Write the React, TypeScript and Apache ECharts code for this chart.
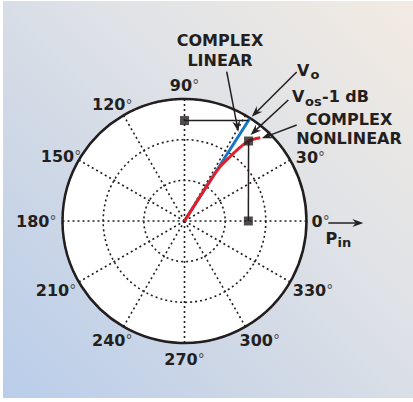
import React, { useEffect, useRef } from "react";
import * as echarts from "echarts";

// Polar plane: radius in arbitrary units (outer ring = 3), angle in degrees
const radiusMax = 3;
const angleStep = 30;
// Angles whose tick label is left out (crowded by the annotations)
const hiddenAngleLabels = [60];

// Complex linear response: straight vector from the origin
const linearPath: [number, number][] = [
  [0, 57.5],
  [2.98, 57.5],
];

// Complex nonlinear response: bends away from the linear vector near compression
const nonlinearPath: [number, number][] = [
  [0, 57.5],
  [1.2, 57.4],
  [1.6, 56.7],
  [1.88, 55.0],
  [2.17, 53.5],
  [2.52, 51.3],
  [2.77, 47.7],
];

// Projection markers: Vo onto the 90° axis, Vos-1 dB onto the 0° axis
const voProjection: [number, number][] = [
  [2.47, 90],
  [2.93, 57.5],
];
const vosProjection: [number, number][] = [
  [2.52, 51.3],
  [1.57, 0],
];
const markerPoints: [number, number][] = [
  [2.47, 90],
  [2.52, 51.3],
  [1.57, 0],
];

const INK = "#231f20";
const FONT = "DejaVu Sans";

// Per-label padding [top, right, bottom, left] used to nudge the angle labels
const labelPad: Record<number, [number, number, number, number]> = {
  0: [0, 0, 0, 25],
  30: [2, 0, 5, 23],
  90: [0, 0, 26, 0],
  120: [0, 1, 20, 0],
  150: [0, 15, 6, 0],
  180: [0, 26, 0, 0],
  210: [10, 20, 0, 0],
  240: [23, 1, 0, 0],
  270: [28, 0, 0, 0],
  300: [23, 0, 0, 4],
  330: [10, 0, 0, 20],
};

function buildRich() {
  const rich: Record<string, any> = {};
  Object.keys(labelPad).forEach((k) => {
    const [t, r, b, l] = labelPad[Number(k)];
    rich["n" + k] = {
      fontFamily: FONT,
      fontSize: 16,
      fontWeight: "bold",
      color: INK,
      padding: [t, 0, b, l],
    };
    rich["d" + k] = {
      fontFamily: FONT,
      fontSize: 14,
      fontWeight: "normal",
      color: "#555",
      padding: [t, r, b, 0],
    };
  });
  return rich;
}

function arrow(x1: number, y1: number, x2: number, y2: number) {
  const dx = x2 - x1;
  const dy = y2 - y1;
  const len = Math.hypot(dx, dy);
  const ux = dx / len;
  const uy = dy / len;
  const nx = -uy;
  const ny = ux;
  const L = 11;
  const W = 4;
  const bx = x2 - ux * L;
  const by = y2 - uy * L;
  const notchX = x2 - ux * (L - 3.5);
  const notchY = y2 - uy * (L - 3.5);
  return [
    {
      type: "line",
      z: 100,
      shape: { x1, y1, x2: notchX, y2: notchY },
      style: { stroke: INK, lineWidth: 1.5 },
      silent: true,
    },
    {
      type: "polygon",
      z: 100,
      shape: {
        points: [
          [x2, y2],
          [bx + nx * W, by + ny * W],
          [notchX, notchY],
          [bx - nx * W, by - ny * W],
        ],
      },
      style: { fill: INK },
      silent: true,
    },
  ];
}

function label(text: string, x: number, y: number, size = 16, align = "center") {
  return {
    type: "text",
    z: 100,
    silent: true,
    style: {
      text,
      x,
      y,
      fill: INK,
      fontFamily: FONT,
      fontSize: size,
      fontWeight: "bold",
      align,
      verticalAlign: "middle",
    },
  };
}

export default function App() {
  const ref = useRef<HTMLDivElement>(null);

  useEffect(() => {
    if (!ref.current) return;
    const chart = echarts.init(ref.current, null, { renderer: "svg" });

    const dotted = { color: INK, width: 1.6, type: [2, 3] as number[] };
    const cx = 184.5;
    const cy = 221;
    const R = 122;

    chart.setOption({
      animation: false,
      polar: { center: [cx, cy], radius: R },
      angleAxis: {
        type: "value",
        min: 0,
        max: 360,
        interval: angleStep,
        startAngle: 0,
        clockwise: false,
        z: 2,
        axisLine: { show: true, lineStyle: { color: INK, width: 2.5 } },
        axisTick: { show: false },
        splitLine: { show: true, lineStyle: dotted },
        axisLabel: {
          margin: -20,
          color: INK,
          formatter: (v: number) =>
            hiddenAngleLabels.indexOf(v) >= 0 || !labelPad[v] ? "" : `{n${v}|${v}}{d${v}|°}`,
          rich: buildRich(),
        },
      },
      radiusAxis: {
        type: "value",
        min: 0,
        max: radiusMax,
        interval: 1,
        z: 2,
        axisLine: { show: false },
        axisTick: { show: false },
        axisLabel: { show: false },
        splitLine: { show: true, lineStyle: dotted },
      },
      series: [
        {
          type: "line",
          coordinateSystem: "polar",
          data: linearPath,
          symbol: "none",
          z: 3,
          lineStyle: { color: "#1677c3", width: 3 },
        },
        {
          type: "line",
          coordinateSystem: "polar",
          data: nonlinearPath,
          symbol: "none",
          smooth: 0.3,
          z: 3,
          lineStyle: { color: "#e3202a", width: 3 },
        },
        {
          type: "line",
          coordinateSystem: "polar",
          data: voProjection,
          symbol: "none",
          z: 3,
          lineStyle: { color: INK, width: 1.5 },
        },
        {
          type: "line",
          coordinateSystem: "polar",
          data: vosProjection,
          symbol: "none",
          z: 3,
          lineStyle: { color: INK, width: 1.5 },
        },
        {
          type: "scatter",
          coordinateSystem: "polar",
          data: markerPoints,
          symbol: "rect",
          symbolSize: 9,
          itemStyle: { color: INK },
          z: 5,
        },
      ],
      graphic: [
        {
          type: "circle",
          z: -5,
          silent: true,
          shape: { cx, cy, r: R },
          style: { fill: "#ffffff" },
        },
        label("COMPLEX", 220, 40),
        label("LINEAR", 220, 60),
        ...arrow(226.7, 71.7, 238.3, 131.7),

        label("V", 297, 70, 16, "left"),
        label("o", 310.5, 74.5, 13, "left"),
        ...arrow(296.7, 72, 251.7, 116.7),

        label("V", 292, 96, 16, "left"),
        label("os", 305, 101, 13, "left"),
        label("-1 dB", 322, 96, 16, "left"),
        ...arrow(288.3, 100, 250.5, 135),

        label("COMPLEX", 349, 119.5),
        label("NONLINEAR", 349, 138.5),
        ...arrow(296.7, 125, 261.7, 138.3),

        ...arrow(328.3, 223, 363.3, 223),
        label("P", 325.5, 238, 16, "left"),
        label("in", 337.5, 242, 13, "left"),
      ],
    });

    return () => chart.dispose();
  }, []);

  return (
    <div style={{ position: "fixed", left: 0, top: 0, width: 413, height: 402, background: "#ffffff" }}>
      <div
        style={{
          position: "absolute",
          left: 3,
          top: 1,
          width: 410,
          height: 397,
          background: "linear-gradient(45deg, #b9cdea 0%, #cfd8e6 35%, #dfe2e7 60%, #f2ebe2 100%)",
        }}
      />
      <div ref={ref} style={{ position: "absolute", left: 0, top: 0, width: 413, height: 402 }} />
    </div>
  );
}
